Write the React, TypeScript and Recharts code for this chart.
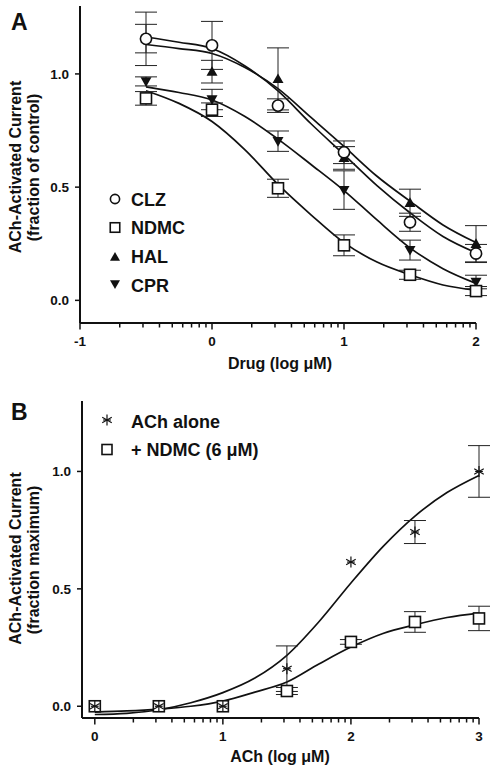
import React from 'react';
import { ComposedChart, Line, Scatter, XAxis, YAxis, ErrorBar, Customized } from 'recharts';

const FONT = '"Liberation Sans", Arial, Helvetica, sans-serif';
const INK = '#111';

// ---------------- Panel A data ----------------
const drugLog = [-0.5, 0, 0.5, 1, 1.5, 2];
const clzMean = [1.155, 1.126, 0.86, 0.654, 0.345, 0.207];
const clzErr = [0.118, 0.106, 0.03, 0.05, 0.04, 0.04];
const ndmcAMean = [0.892, 0.842, 0.495, 0.243, 0.113, 0.041];
const ndmcAErr = [0.03, 0.03, 0.04, 0.046, 0.02, 0.02];
const halMean = [1.156, 1.01, 0.978, 0.629, 0.431, 0.25];
const halErr = [0.063, 0.05, 0.137, 0.05, 0.06, 0.08];
const cprMean = [0.967, 0.887, 0.703, 0.487, 0.222, 0.081];
const cprErr = [0.02, 0.045, 0.045, 0.085, 0.044, 0.03];

const fitXA = [-0.5, -0.25, 0, 0.25, 0.5, 0.75, 1, 1.25, 1.5, 1.75, 2];
const clzFit = [1.163, 1.14, 1.112, 1.035, 0.925, 0.78, 0.644, 0.507, 0.387, 0.282, 0.21];
const halFit = [1.13, 1.112, 1.09, 1.028, 0.935, 0.808, 0.68, 0.548, 0.438, 0.333, 0.255];
const cprFit = [0.943, 0.918, 0.885, 0.812, 0.712, 0.6, 0.485, 0.355, 0.232, 0.14, 0.075];
const ndmcAFit = [0.926, 0.87, 0.79, 0.665, 0.512, 0.378, 0.255, 0.169, 0.113, 0.068, 0.045];

const xMajorA = [-1, 0, 1, 2];
const yTicksA = [0, 0.5, 1];

// ---------------- Panel B data ----------------
const achLog = [0, 0.5, 1, 1.5, 2, 2.5, 3];
const achAloneMean = [0, 0, 0, 0.16, 0.614, 0.742, 1.0];
const achAloneErr = [0, 0, 0, 0.097, 0, 0.049, 0.11];
const ndmcBMean = [0, 0, 0, 0.065, 0.274, 0.359, 0.374];
const ndmcBErr = [0, 0, 0, 0.015, 0.01, 0.044, 0.052];

const fitXB = [0, 0.25, 0.5, 0.75, 1, 1.25, 1.5, 1.75, 2, 2.25, 2.5, 2.75, 3];
const achFit = [-0.035, -0.03, -0.015, 0.015, 0.058, 0.12, 0.217, 0.36, 0.525, 0.68, 0.81, 0.91, 0.983];
const ndmcBFit = [-0.025, -0.02, -0.012, 0.0, 0.022, 0.06, 0.103, 0.18, 0.252, 0.31, 0.347, 0.378, 0.397];

const xMajorB = [0, 1, 2, 3];
const yTicksB = [0, 0.5, 1];

const minorMult = [2, 3, 4, 5, 6, 7, 8, 9];

// ---------------- helpers ----------------
const makeTicks = (majors: number[], lo: number, hi: number) => {
  const out: number[] = [];
  majors.forEach((m) => {
    out.push(m);
    minorMult.forEach((k) => {
      const v = m + Math.log10(k);
      if (v > lo && v < hi) out.push(v);
    });
  });
  return out.filter((v) => v >= lo && v <= hi).sort((a, b) => a - b);
};

const pts = (xs: number[], ys: number[], es: number[]) => xs.map((x, i) => ({ x, y: ys[i], err: es[i] }));
const fitRows = (xs: number[], series: Record<string, number[]>) =>
  xs.map((x, i) => {
    const r: any = { x };
    Object.keys(series).forEach((k) => (r[k] = series[k][i]));
    return r;
  });

const isMajor = (v: number) => Math.abs(v - Math.round(v)) < 1e-6;

const XTick = (props: any) => {
  const { x, y, payload } = props;
  const v = Number(payload.value);
  const major = isMajor(v);
  return (
    <g>
      <line x1={x} x2={x} y1={y} y2={y + (major ? 6.5 : 4.5)} stroke={INK} strokeWidth={1.5} />
      {major ? (
        <text x={x} y={y + 22.5} textAnchor="middle" fontFamily={FONT} fontWeight="bold" fontSize={13.5} fill={INK}>
          {String(Math.round(v))}
        </text>
      ) : null}
    </g>
  );
};

const YTick = (props: any) => {
  const { x, y, payload } = props;
  return (
    <g>
      <line x1={x - 5} x2={x} y1={y} y2={y} stroke={INK} strokeWidth={1.5} />
      <text x={x - 11} y={y + 4.8} textAnchor="end" fontFamily={FONT} fontWeight="bold" fontSize={13.5} fill={INK}>
        {Number(payload.value).toFixed(1)}
      </text>
    </g>
  );
};

// markers
const OpenCircle = ({ cx, cy, r = 5.6 }: any) => (
  <circle cx={cx} cy={cy} r={r} fill="#fff" stroke={INK} strokeWidth={1.6} />
);
const OpenSquare = ({ cx, cy, s = 11 }: any) => (
  <rect x={cx - s / 2} y={cy - s / 2} width={s} height={s} fill="#fff" stroke={INK} strokeWidth={1.6} />
);
const TriUp = ({ cx, cy, s = 10 }: any) => (
  <polygon points={`${cx},${cy - s * 0.5} ${cx + s * 0.5},${cy + s * 0.38} ${cx - s * 0.5},${cy + s * 0.38}`} fill={INK} />
);
const TriDown = ({ cx, cy, s = 10 }: any) => (
  <polygon points={`${cx},${cy + s * 0.5} ${cx + s * 0.5},${cy - s * 0.38} ${cx - s * 0.5},${cy - s * 0.38}`} fill={INK} />
);
const Asterisk = ({ cx, cy, r = 5.5 }: any) => {
  const angles = [90, 30, -30];
  return (
    <g stroke={INK} strokeWidth={1.2}>
      {angles.map((a) => {
        const rad = (a * Math.PI) / 180;
        const dx = r * Math.cos(rad);
        const dy = r * Math.sin(rad);
        return <line key={a} x1={cx - dx} y1={cy - dy} x2={cx + dx} y2={cy + dy} />;
      })}
      <line x1={cx - r * 0.7} y1={cy} x2={cx + r * 0.7} y2={cy} />
    </g>
  );
};
const NoShape = () => <g />;

const txt = (x: number, y: number, s: string, size: number, extra: any = {}) => (
  <text x={x} y={y} fontFamily={FONT} fontWeight="bold" fontSize={size} fill={INK} {...extra}>
    {s}
  </text>
);

// ---------------- Panel overlays ----------------
const PanelAText = () => (
  <g>
    {txt(11, 29.5, 'A', 23)}
    <text transform="rotate(-90 21 167)" x={21} y={167} textAnchor="middle" fontFamily={FONT} fontWeight="bold" fontSize={16} fill={INK}>
      ACh-Activated Current
    </text>
    <text transform="rotate(-90 38.5 167.5)" x={38.5} y={167.5} textAnchor="middle" fontFamily={FONT} fontWeight="bold" fontSize={16} fill={INK}>
      (fraction of control)
    </text>
    {txt(280, 368.5, 'Drug (log \u03bcM)', 16, { textAnchor: 'middle' })}
    <OpenCircle cx={115} cy={199} r={4.6} />
    {txt(131, 199 + 6.5, 'CLZ', 18)}
    <OpenSquare cx={115} cy={227.5} s={9.5} />
    {txt(131, 227.5 + 6.5, 'NDMC', 18)}
    <TriUp cx={115} cy={257} s={10} />
    {txt(131, 256.5 + 6.5, 'HAL', 18)}
    <TriDown cx={115} cy={284} s={10} />
    {txt(131, 285 + 6.5, 'CPR', 18)}
  </g>
);

const PanelBText = () => (
  <g>
    {txt(11, 29.5, 'B', 23)}
    <text transform="rotate(-90 21 168.5)" x={21} y={168.5} textAnchor="middle" fontFamily={FONT} fontWeight="bold" fontSize={16} fill={INK}>
      ACh-Activated Current
    </text>
    <text transform="rotate(-90 38.5 170)" x={38.5} y={170} textAnchor="middle" fontFamily={FONT} fontWeight="bold" fontSize={16} fill={INK}>
      (fraction maximum)
    </text>
    {txt(280, 372, 'ACh (log \u03bcM)', 16, { textAnchor: 'middle' })}
    <Asterisk cx={107} cy={30} r={5.5} />
    {txt(131, 31 + 6.5, 'ACh alone', 18)}
    <OpenSquare cx={107} cy={59.5} s={10} />
    {txt(131, 59 + 6.5, '+ NDMC (6 \u03bcM)', 18)}
  </g>
);

const errProps = { dataKey: 'err', direction: 'y' as const, width: 11, stroke: '#222', strokeWidth: 1 };
const lineProps = { type: 'monotone' as const, dot: false, activeDot: false, stroke: INK, strokeWidth: 1.7, isAnimationActive: false };
const axisLine = { stroke: INK, strokeWidth: 2 };

const errScatter = (key: string, data: any[]) => (
  <Scatter key={key} data={data} dataKey="y" isAnimationActive={false} shape={NoShape}>
    <ErrorBar {...errProps} />
  </Scatter>
);
const markScatter = (key: string, data: any[], render: (p: any) => any) => (
  <Scatter key={key} data={data} dataKey="y" isAnimationActive={false} shape={render} />
);

export default function App() {
  const fitA = fitRows(fitXA, { clz: clzFit, hal: halFit, cpr: cprFit, ndmc: ndmcAFit });
  const fitB = fitRows(fitXB, { ach: achFit, ndmc: ndmcBFit });
  const ticksA = makeTicks(xMajorA, -1, 2);
  const ticksB = makeTicks(xMajorB, -0.1, 3);

  const halPts = pts(drugLog, halMean, halErr);
  const cprPts = pts(drugLog, cprMean, cprErr);
  const ndmcAPts = pts(drugLog, ndmcAMean, ndmcAErr);
  const clzPts = pts(drugLog, clzMean, clzErr);
  const ndmcBPts = pts(achLog, ndmcBMean, ndmcBErr);
  const achPts = pts(achLog, achAloneMean, achAloneErr);

  return (
    <div style={{ position: 'absolute', left: 0, top: 0, width: 494, height: 774, background: '#fff' }}>
      <div style={{ position: 'absolute', left: 0, top: 0 }}>
        <ComposedChart width={494} height={390} data={fitA} margin={{ top: 6, right: 18, bottom: 27, left: 0 }}>
          <XAxis dataKey="x" type="number" domain={[-1, 2]} ticks={ticksA} interval={0} minTickGap={0}
            tick={XTick} tickLine={false} tickSize={0} tickMargin={0} axisLine={axisLine} height={40} />
          <YAxis type="number" domain={[-0.1, 1.3]} ticks={yTicksA} interval={0} width={80}
            tick={YTick} tickLine={false} tickSize={0} tickMargin={0} axisLine={axisLine} />
          <Line dataKey="clz" {...lineProps} />
          <Line dataKey="hal" {...lineProps} />
          <Line dataKey="cpr" {...lineProps} />
          <Line dataKey="ndmc" {...lineProps} />
          {errScatter('eh', halPts)}
          {errScatter('ec', cprPts)}
          {errScatter('en', ndmcAPts)}
          {errScatter('ez', clzPts)}
          {markScatter('mh', halPts, (p: any) => <TriUp cx={p.cx} cy={p.cy} s={11} />)}
          {markScatter('mc', cprPts, (p: any) => <TriDown cx={p.cx} cy={p.cy} s={11} />)}
          {markScatter('mn', ndmcAPts, (p: any) => <OpenSquare cx={p.cx} cy={p.cy} s={11} />)}
          {markScatter('mz', clzPts, (p: any) => <OpenCircle cx={p.cx} cy={p.cy} />)}
          <Customized component={PanelAText} />
        </ComposedChart>
      </div>
      <div style={{ position: 'absolute', left: 0, top: 390 }}>
        <ComposedChart width={494} height={384} data={fitB} margin={{ top: 11, right: 15, bottom: 16, left: 0 }}>
          <XAxis dataKey="x" type="number" domain={[-0.1, 3]} ticks={ticksB} interval={0} minTickGap={0}
            tick={XTick} tickLine={false} tickSize={0} tickMargin={0} axisLine={axisLine} height={40} />
          <YAxis type="number" domain={[-0.05, 1.3]} ticks={yTicksB} interval={0} width={82}
            tick={YTick} tickLine={false} tickSize={0} tickMargin={0} axisLine={axisLine} />
          <Line dataKey="ach" {...lineProps} />
          <Line dataKey="ndmc" {...lineProps} />
          {errScatter('en', ndmcBPts)}
          {errScatter('ea', achPts)}
          {markScatter('mn', ndmcBPts, (p: any) => <OpenSquare cx={p.cx} cy={p.cy} s={11} />)}
          {markScatter('ma', achPts, (p: any) => <Asterisk cx={p.cx} cy={p.cy} r={5.5} />)}
          <Customized component={PanelBText} />
        </ComposedChart>
      </div>
    </div>
  );
}
